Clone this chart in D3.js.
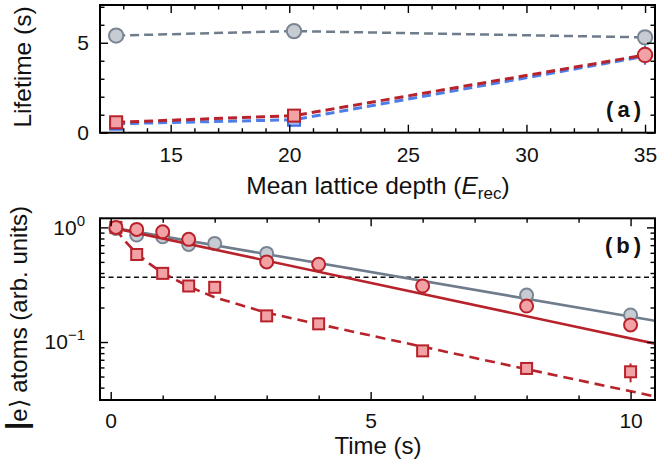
<!DOCTYPE html>
<html><head><meta charset="utf-8">
<script src="https://cdn.jsdelivr.net/npm/d3@7"></script>
<style>
body{margin:0;background:#fff}
svg{display:block}
text{font-family:"Liberation Sans",Arial,Helvetica,sans-serif;fill:#111}
</style>
</head><body>
<svg id="c" width="657" height="468"></svg>
<script>
// ---------------- DATA ----------------
// Panel (a): lifetime vs mean lattice depth
const depths      = [12.7, 20.2, 35];
const lifeGrey    = [5.4, 5.65, 5.3];
const lifeRed     = [0.58, 0.95, 4.32];
const lifeBlue    = [0.5, 0.72, 4.25];
const lifeBlueLo  = [0.5, 0.72, 3.78];
const lifeBlueHi  = [0.5, 0.72, 4.85];
const redShapes   = ["square", "square", "circle"];
const depthTicks  = [15, 20, 25, 30, 35];
const depthMinor  = [13,14,16,17,18,19,21,22,23,24,26,27,28,29,31,32,33,34];
const lifeTicks   = [0, 5];
const lifeMinor   = [1, 2, 3, 4, 6, 7];

// Panel (b): |e> atoms vs time
const greyT   = [0.1, 0.5, 1, 1.5, 2, 3, 8, 10];
const greyN   = [0.98, 0.857, 0.828, 0.71, 0.725, 0.593, 0.257, 0.172];
const redCT   = [0.1, 0.5, 1, 1.5, 3, 4, 6, 8, 10];
const redCN   = [1.0, 0.96, 0.915, 0.786, 0.50, 0.476, 0.308, 0.206, 0.141];
const redST   = [0.1, 0.5, 1, 1.5, 2, 3, 4, 6, 8, 10];
const redSN   = [1.0, 0.58, 0.397, 0.308, 0.30, 0.169, 0.144, 0.0837, 0.0588, 0.055];
const redSLo  = [1.0, 0.58, 0.397, 0.308, 0.30, 0.169, 0.144, 0.0837, 0.0588, 0.0445];
const redSHi  = [1.0, 0.58, 0.397, 0.308, 0.30, 0.169, 0.144, 0.0837, 0.0588, 0.065];
// fit curves
const greyFitT = [0, 10.47];
const greyFitN = [1.0, 0.153];
const redFitT  = [0, 10.47];
const redFitN  = [1.0, 0.0968];
const redDashT = [0.1, 0.25, 0.5, 0.75, 1, 1.5, 2, 2.5, 3, 4, 5, 6, 8, 10.47];
const redDashN = [0.97, 0.78, 0.59, 0.48, 0.40, 0.305, 0.245, 0.21, 0.18, 0.143, 0.114, 0.091, 0.058, 0.0335];
const invE = [0.368];
const timeTicks = [0, 5, 10];
const timeMinor = [1, 2, 3, 4, 6, 7, 8, 9];
const logTicks  = [0.1, 1];
const logLabels = [["10", "\u22121"], ["10", "0"]];
const logMinor  = [0.04, 0.05, 0.06, 0.07, 0.08, 0.09, 0.2, 0.3, 0.4, 0.5, 0.6, 0.7, 0.8, 0.9];

// ---------------- STYLE ----------------
const GREY_LINE = "#6f7c8c", GREY_FILL = "#c7ccd3", GREY_STROKE = "#7a8594";
const RED = "#b8222b", RED_FILL = "#f2a2a5", BLUE = "#3c6fe4";

const svg = d3.select("#c");

// ---------------- SCALES ----------------
const L = 100, R = 655;
const xA = d3.scaleLinear().domain([12.02, 35.42]).range([L, R]);
const yA = d3.scaleLinear().domain([0, 7.1]).range([132.7, 5]);
const xB = d3.scaleLinear().domain([-0.206, 10.47]).range([L, R]);
const yB = d3.scaleLog().domain([0.0312, 1.2]).range([400, 218.3]);

function ticks(g, x, y, xMaj, xMin, yMaj, yMin, fmtX, fmtY, padX, padY) {
  const [x0, x1] = x.range(), [y1, y0] = y.range();
  const st = s => s.selectAll("line").attr("stroke", "#000").attr("stroke-width", 1.4);
  const clean = s => { s.select(".domain").remove(); st(s); };
  g.append("g").attr("transform", `translate(0,${y1})`)
    .call(d3.axisBottom(x).tickValues(xMaj).tickSize(-8).tickPadding(padX).tickFormat(fmtX)).call(clean)
    .selectAll("text").attr("font-size", 21).attr("fill", "#111");
  g.append("g").attr("transform", `translate(0,${y1})`)
    .call(d3.axisBottom(x).tickValues(xMin).tickSize(-4.5).tickFormat("")).call(clean);
  g.append("g").attr("transform", `translate(0,${y0})`)
    .call(d3.axisTop(x).tickValues(xMaj).tickSize(-8).tickFormat("")).call(clean);
  g.append("g").attr("transform", `translate(0,${y0})`)
    .call(d3.axisTop(x).tickValues(xMin).tickSize(-4.5).tickFormat("")).call(clean);
  const ly = g.append("g").attr("transform", `translate(${x0},0)`)
    .call(d3.axisLeft(y).tickValues(yMaj).tickSize(-8).tickPadding(padY).tickFormat(fmtY)).call(clean);
  ly.selectAll("text").attr("font-size", 21).attr("fill", "#111");
  g.append("g").attr("transform", `translate(${x0},0)`)
    .call(d3.axisLeft(y).tickValues(yMin).tickSize(-4.5).tickFormat("")).call(clean);
  g.append("g").attr("transform", `translate(${x1},0)`)
    .call(d3.axisRight(y).tickValues(yMaj).tickSize(-8).tickFormat("")).call(clean);
  g.append("g").attr("transform", `translate(${x1},0)`)
    .call(d3.axisRight(y).tickValues(yMin).tickSize(-4.5).tickFormat("")).call(clean);
  g.append("rect").attr("x", x0).attr("y", y0).attr("width", x1 - x0).attr("height", y1 - y0)
    .attr("fill", "none").attr("stroke", "#000").attr("stroke-width", 2);
  return ly;
}

function squares(g, pts, x, y, fill, stroke, s) {
  g.selectAll(null).data(pts).join("rect")
    .attr("x", d => x(d[0]) - s / 2).attr("y", d => y(d[1]) - s / 2)
    .attr("width", s).attr("height", s)
    .attr("fill", fill).attr("stroke", stroke).attr("stroke-width", 2);
}
function circles(g, pts, x, y, fill, stroke, r) {
  g.selectAll(null).data(pts).join("circle")
    .attr("cx", d => x(d[0])).attr("cy", d => y(d[1])).attr("r", r)
    .attr("fill", fill).attr("stroke", stroke).attr("stroke-width", 2);
}

// ---------------- PANEL (a) ----------------
const gA = svg.append("g");
const lineA = d3.line().x(d => xA(d[0])).y(d => yA(d[1]));
const blueP = depths.map((d, i) => [d, lifeBlue[i]]);
const redP  = depths.map((d, i) => [d, lifeRed[i]]);
const greyP = depths.map((d, i) => [d, lifeGrey[i]]);

gA.append("path").attr("d", lineA(blueP)).attr("fill", "none").attr("stroke", BLUE)
  .attr("stroke-width", 3).attr("stroke-dasharray", "9,5").attr("opacity", 0.9);
gA.append("path").attr("d", lineA(redP)).attr("fill", "none").attr("stroke", RED)
  .attr("stroke-width", 3).attr("stroke-dasharray", "9,5");
gA.append("path").attr("d", lineA(greyP)).attr("fill", "none").attr("stroke", GREY_LINE)
  .attr("stroke-width", 2.5).attr("stroke-dasharray", "9,5");

// blue error bar + markers (mostly hidden)
gA.selectAll(null).data(depths.map((d, i) => [d, lifeBlueLo[i], lifeBlueHi[i]])).join("line")
  .attr("x1", d => xA(d[0])).attr("x2", d => xA(d[0]))
  .attr("y1", d => yA(d[1])).attr("y2", d => yA(d[2]))
  .attr("stroke", BLUE).attr("stroke-width", 2);
squares(gA, blueP.slice(0, 2), xA, yA, "#9fb6ee", BLUE, 12);
circles(gA, greyP, xA, yA, GREY_FILL, GREY_STROKE, 7.2);
squares(gA, redP.filter((d, i) => redShapes[i] === "square"), xA, yA, RED_FILL, RED, 12);
circles(gA, redP.filter((d, i) => redShapes[i] === "circle"), xA, yA, RED_FILL, RED, 7.2);

ticks(gA, xA, yA, depthTicks, depthMinor, lifeTicks, lifeMinor, d3.format("d"), d3.format("d"), 14.5, 11);

gA.append("text").attr("x", 645).attr("y", 117).attr("text-anchor", "end")
  .attr("font-size", 22).attr("font-weight", "bold").attr("letter-spacing", 4).text("(a)");

gA.append("text").attr("transform", "translate(31,67) rotate(-90)").attr("text-anchor", "middle")
  .attr("font-size", 24.5).text("Lifetime (s)");

const tA = gA.append("text").attr("x", 378).attr("y", 194).attr("text-anchor", "middle").attr("font-size", 24.5);
tA.append("tspan").text("Mean lattice depth (");
tA.append("tspan").attr("font-style", "italic").text("E");
tA.append("tspan").attr("font-size", 17).attr("dy", 5).text("rec");
tA.append("tspan").attr("dy", -5).text(")");

// ---------------- PANEL (b) ----------------
const gB = svg.append("g");
const clip = svg.append("clipPath").attr("id", "clipB");
clip.append("rect").attr("x", L).attr("y", 218.3).attr("width", R - L).attr("height", 400 - 218.3);
const pB = gB.append("g").attr("clip-path", "url(#clipB)");
const lineB = d3.line().x(d => xB(d[0])).y(d => yB(d[1]));

pB.append("path").attr("d", lineB(xB.domain().map(t => [t, invE[0]])))
  .attr("fill", "none").attr("stroke", "#111").attr("stroke-width", 1.5).attr("stroke-dasharray", "5,3.5");
pB.append("path").attr("d", lineB(greyFitT.map((t, i) => [t, greyFitN[i]])))
  .attr("fill", "none").attr("stroke", GREY_LINE).attr("stroke-width", 2.6);
circles(pB, greyT.map((t, i) => [t, greyN[i]]), xB, yB, GREY_FILL, GREY_STROKE, 6.5);
pB.append("path").attr("d", lineB(redFitT.map((t, i) => [t, redFitN[i]])))
  .attr("fill", "none").attr("stroke", RED).attr("stroke-width", 2.6);
pB.append("path").attr("d", lineB(redDashT.map((t, i) => [t, redDashN[i]])))
  .attr("fill", "none").attr("stroke", RED).attr("stroke-width", 2.6).attr("stroke-dasharray", "10,6");
pB.selectAll(null).data(redST.map((t, i) => [t, redSLo[i], redSHi[i]])).join("line")
  .attr("x1", d => xB(d[0])).attr("x2", d => xB(d[0]))
  .attr("y1", d => yB(d[1])).attr("y2", d => yB(d[2]))
  .attr("stroke", RED).attr("stroke-width", 2);
squares(pB, redST.map((t, i) => [t, redSN[i]]), xB, yB, RED_FILL, RED, 11);
circles(pB, redCT.map((t, i) => [t, redCN[i]]), xB, yB, RED_FILL, RED, 6.5);

const lyB = ticks(gB, xB, yB, timeTicks, timeMinor, logTicks, logMinor, d3.format("d"), () => "", 13.5, 15);
lyB.selectAll(".tick text").each(function(d) {
  const i = logTicks.indexOf(d);
  const t = d3.select(this).text(null).attr("font-size", 21);
  t.append("tspan").text(logLabels[i][0]);
  t.append("tspan").attr("font-size", 15).attr("dy", -9).text(logLabels[i][1]);
});

gB.append("text").attr("x", 645).attr("y", 253).attr("text-anchor", "end")
  .attr("font-size", 22).attr("font-weight", "bold").attr("letter-spacing", 4).text("(b)");

const tyB = gB.append("text").attr("transform", "translate(27,318) rotate(-90)")
  .attr("text-anchor", "middle").attr("font-size", 24);
tyB.append("tspan").attr("font-weight", "bold").attr("font-size", 30).text("|");
tyB.append("tspan").text("e\u27E9 atoms (arb. units)");

gB.append("text").attr("x", 378).attr("y", 454).attr("text-anchor", "middle")
  .attr("font-size", 24).text("Time (s)");
</script>
</body></html>
